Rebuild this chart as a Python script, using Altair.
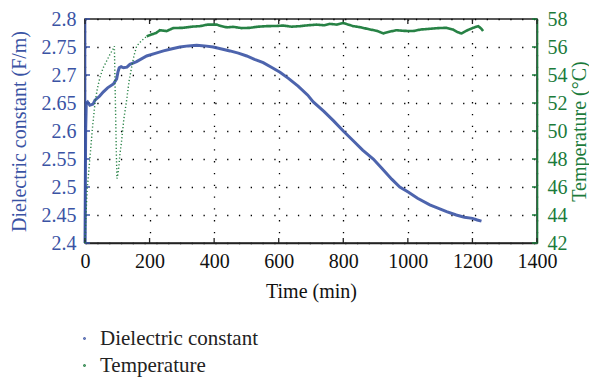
import altair as alt
import pandas as pd

BLUE = "#3a53a4"
GREEN = "#1b7b3b"
FONT = "Liberation Serif"

# Dielectric constant (F/m) vs time (min)
dc_time = [0, 1, 2, 4, 8, 15, 25, 31, 45, 57, 70, 88, 98, 102, 106, 112, 119, 130,
           139, 160, 191, 220, 243, 270, 294, 320, 346, 370, 397, 420, 449, 475, 501,
           525, 552, 580, 604, 630, 660, 690, 707, 740, 770, 800, 830, 860, 893, 920,
           950, 975, 1001, 1030, 1068, 1095, 1120, 1150, 1175, 1200, 1215, 1228]
dc_value = [2.40, 2.50, 2.60, 2.65, 2.652, 2.646, 2.648, 2.655, 2.662, 2.670, 2.677,
            2.684, 2.693, 2.705, 2.713, 2.715, 2.713, 2.714, 2.719, 2.724, 2.734, 2.739,
            2.743, 2.747, 2.750, 2.752, 2.753, 2.752, 2.750, 2.747, 2.743, 2.739, 2.734,
            2.728, 2.722, 2.713, 2.705, 2.694, 2.680, 2.664, 2.652, 2.635, 2.618, 2.600,
            2.583, 2.566, 2.550, 2.533, 2.514, 2.500, 2.491, 2.480, 2.468, 2.462, 2.456,
            2.450, 2.446, 2.444, 2.441, 2.439]

# Temperature (deg C) vs time (min): fast transient (sparse samples) then plateau
temp_time_transient = [0, 3, 7, 15, 23, 31, 38, 46, 56, 67, 78, 88, 91, 93, 95, 97, 99,
                       101, 105, 108, 113, 120, 129, 136, 144, 152, 160, 175, 191]
temp_value_transient = [42.0, 44.0, 45.9, 48.0, 50.2, 52.0, 53.0, 53.8, 54.5, 55.0, 55.5,
                        55.9, 56.06, 53.5, 51.0, 48.5, 46.6, 46.8, 47.5, 48.3, 49.2, 50.8,
                        52.2, 53.5, 54.5, 55.4, 56.06, 56.45, 56.76]
temp_time_plateau = [191, 201, 220, 232, 253, 273, 304, 330, 356, 380, 408, 420, 440, 459,
                     485, 511, 535, 563, 590, 614, 640, 666, 690, 717, 740, 759, 780, 800,
                     815, 831, 855, 883, 905, 924, 945, 965, 990, 1017, 1040, 1068, 1095,
                     1120, 1140, 1155, 1166, 1185, 1202, 1218, 1228, 1233]
temp_value_plateau = [56.76, 56.85, 57.0, 57.2, 57.14, 57.35, 57.37, 57.45, 57.49, 57.6,
                      57.6, 57.5, 57.4, 57.44, 57.35, 57.37, 57.45, 57.49, 57.5, 57.53,
                      57.45, 57.49, 57.55, 57.6, 57.55, 57.65, 57.6, 57.72, 57.6, 57.49,
                      57.4, 57.25, 57.15, 56.97, 57.1, 57.2, 57.15, 57.14, 57.25, 57.3,
                      57.35, 57.37, 57.25, 57.05, 56.97, 57.2, 57.37, 57.49, 57.3, 57.14]

x_ticks = [0, 200, 400, 600, 800, 1000, 1200, 1400]
left_ticks = [2.4, 2.45, 2.5, 2.55, 2.6, 2.65, 2.7, 2.75, 2.8]
right_ticks = [42, 44, 46, 48, 50, 52, 54, 56, 58]

SERIES = ["Dielectric constant", "Temperature"]

df_dc = pd.DataFrame({"t": dc_time, "value": dc_value, "series": SERIES[0]})
df_temp = pd.concat([
    pd.DataFrame({"t": temp_time_transient, "temp": temp_value_transient,
                  "style": "sparse", "series": SERIES[1]}),
    pd.DataFrame({"t": temp_time_plateau, "temp": temp_value_plateau,
                  "style": "dense", "series": SERIES[1]}),
])
df_xt = pd.DataFrame({"t": x_ticks})
df_lt = pd.DataFrame({"value": left_ticks})
df_rt = pd.DataFrame({"temp": right_ticks})

W, H = 452, 224

x_enc = alt.X("t:Q", scale=alt.Scale(domain=[0, 1400], nice=False),
              axis=alt.Axis(values=x_ticks, title="Time (min)", grid=True, format="d",
                            ticks=False, labelPadding=8, titlePadding=10,
                            domainColor="#222", labelColor="#111", titleColor="#111"))
y_left = alt.Y("value:Q", scale=alt.Scale(domain=[2.4, 2.8], nice=False, zero=False),
               axis=alt.Axis(values=left_ticks, title="Dielectric constant (F/m)",
                             grid=True, ticks=False, labelPadding=9, titlePadding=12,
                             domainColor=BLUE, labelColor=BLUE, titleColor=BLUE,
                             format=".4~f"))
y_right = alt.Y("temp:Q", scale=alt.Scale(domain=[42, 58], nice=False, zero=False),
                axis=alt.Axis(values=right_ticks, orient="right",
                              title="Temperature (°C)", grid=False, ticks=False,
                              labelPadding=10, titlePadding=22, titleAngle=270,
                              domainColor=GREEN, labelColor=GREEN, titleColor=GREEN))

color_enc = alt.Color("series:N", scale=alt.Scale(domain=SERIES, range=[BLUE, GREEN]),
                      legend=alt.Legend(title=None, orient="none", legendX=-11,
                                        legendY=309, symbolType="circle", symbolSize=3,
                                        symbolStrokeWidth=1.2, labelFontSize=21,
                                        labelFont=FONT, labelColor="#222",
                                        labelOffset=5, rowPadding=5))

blue_line = alt.Chart(df_dc).mark_line(strokeWidth=3, opacity=0.9).encode(
    x=x_enc, y=y_left, color=color_enc)
bottom_ticks = alt.Chart(df_xt).mark_rule(color="#222", strokeWidth=1.3).encode(
    x=x_enc, y=alt.value(H), y2=alt.value(H - 5))
top_ticks = alt.Chart(df_xt).mark_rule(color="#222", strokeWidth=1.3).encode(
    x=x_enc, y=alt.value(0), y2=alt.value(5))
l_ticks = alt.Chart(df_lt).mark_rule(color=BLUE, strokeWidth=1.5).encode(
    y=y_left, x=alt.value(0), x2=alt.value(5))

green_line = alt.Chart(df_temp).mark_line(opacity=0.95).encode(
    x=x_enc, y=y_right, color=color_enc,
    strokeDash=alt.StrokeDash("style:N",
                              scale=alt.Scale(domain=["dense", "sparse"],
                                              range=[[1, 0], [1.2, 2.2]]),
                              legend=None),
    strokeWidth=alt.StrokeWidth("style:N",
                                scale=alt.Scale(domain=["dense", "sparse"],
                                                range=[2.6, 1.4]),
                                legend=None))
r_ticks = alt.Chart(df_rt).mark_rule(color=GREEN, strokeWidth=1.5).encode(
    y=y_right, x=alt.value(W), x2=alt.value(W - 5))

left_group = alt.layer(blue_line, bottom_ticks, top_ticks, l_ticks)
right_group = alt.layer(green_line, r_ticks)

chart = alt.layer(left_group, right_group).resolve_scale(
    y="independent"
).properties(
    width=W, height=H,
    autosize=alt.AutoSizeParams(type="none"),
    padding={"left": 77, "top": 11, "right": 52, "bottom": 138},
).configure_view(
    stroke="#222", strokeWidth=1.5
).configure_axis(
    labelFont=FONT, titleFont=FONT, labelFontSize=20, titleFontSize=20,
    titleFontWeight="normal", domainWidth=1.6,
    gridColor="#000", gridDash=[1.3, 10.5], gridWidth=1.3, gridOpacity=1,
    labelFlush=False, labelOverlap=False,
)

chart.save("out.html", embed_options={"renderer": "svg", "actions": False})
